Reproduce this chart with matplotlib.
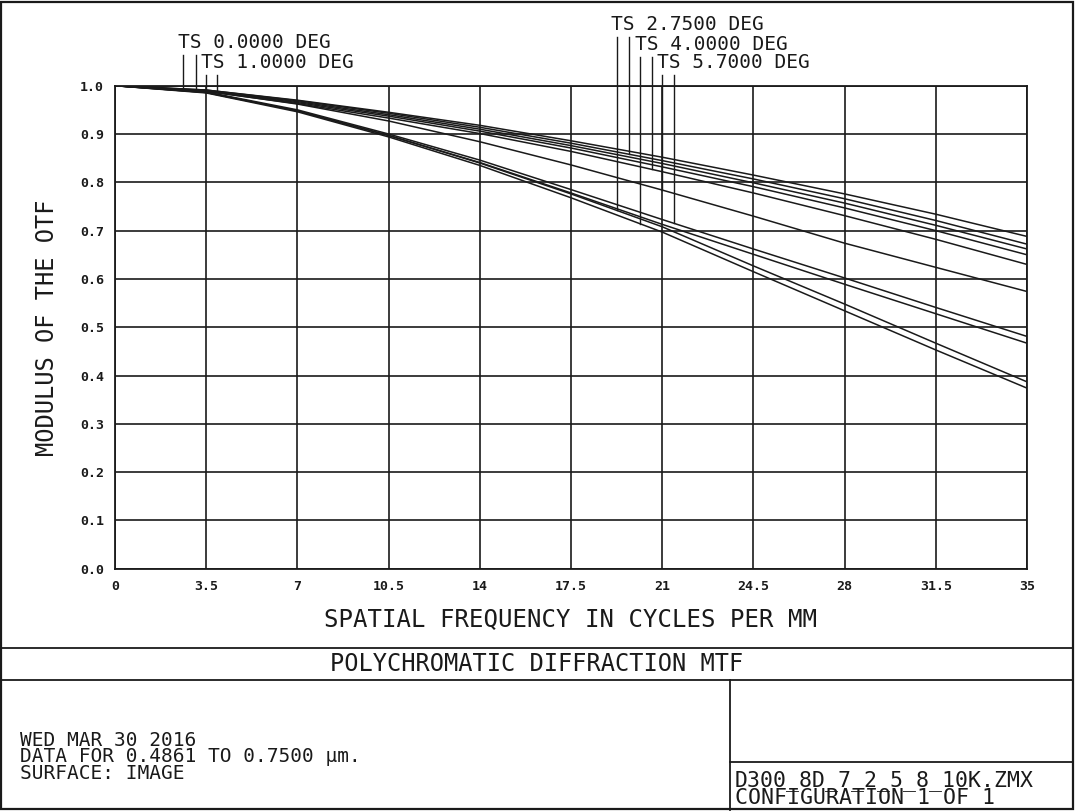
import matplotlib
matplotlib.use('Agg')
import matplotlib.pyplot as plt
import numpy as np

# spatial frequency samples (cycles/mm), read at the grid columns
freq = [0, 3.5, 7, 10.5, 14, 17.5, 21, 24.5, 28, 31.5, 35]

# MTF curves (upper cluster, single line, lower group)
u1 = [1.0, 0.991, 0.970, 0.945, 0.918, 0.886, 0.852, 0.815, 0.776, 0.734, 0.688]
u2 = [1.0, 0.991, 0.969, 0.943, 0.914, 0.881, 0.845, 0.807, 0.766, 0.721, 0.672]
u3 = [1.0, 0.990, 0.967, 0.940, 0.910, 0.876, 0.839, 0.799, 0.757, 0.711, 0.662]
u4 = [1.0, 0.989, 0.965, 0.937, 0.906, 0.871, 0.832, 0.791, 0.747, 0.700, 0.650]
u5 = [1.0, 0.988, 0.963, 0.933, 0.901, 0.864, 0.822, 0.778, 0.731, 0.682, 0.630]
s1 = [1.0, 0.989, 0.962, 0.927, 0.884, 0.836, 0.784, 0.730, 0.674, 0.624, 0.574]
l1 = [1.0, 0.987, 0.950, 0.900, 0.846, 0.785, 0.723, 0.662, 0.602, 0.541, 0.481]
l2 = [1.0, 0.986, 0.948, 0.897, 0.841, 0.778, 0.713, 0.651, 0.589, 0.528, 0.467]
l3 = [1.0, 0.986, 0.948, 0.897, 0.840, 0.776, 0.708, 0.627, 0.548, 0.467, 0.387]
l4 = [1.0, 0.985, 0.946, 0.894, 0.835, 0.768, 0.697, 0.615, 0.534, 0.453, 0.374]
curves = [u1, u2, u3, u4, u5, s1, l1, l2, l3, l4]

# field labels and where their T / S leader lines meet the curves
field_labels = ['TS 0.0000 DEG', 'TS 1.0000 DEG', 'TS 2.7500 DEG',
                'TS 4.0000 DEG', 'TS 5.7000 DEG']
leader_x = [(2.6, 3.1), (3.49, 3.93), (19.25, 19.72), (20.16, 20.59), (21.0, 21.45)]
leader_curve = [(0, 0), (1, 2), (8, 1), (9, 4), (5, 6)]
leader_top = [1.064, 1.022, 1.101, 1.060, 1.022]

xticks = [0, 3.5, 7, 10.5, 14, 17.5, 21, 24.5, 28, 31.5, 35]
xtick_labels = ['0', '3.5', '7', '10.5', '14', '17.5', '21', '24.5', '28', '31.5', '35']
yticks = [0.0, 0.1, 0.2, 0.3, 0.4, 0.5, 0.6, 0.7, 0.8, 0.9, 1.0]

mono = 'DejaVu Sans Mono'
ink = '#1a1a1a'

fig = plt.figure(figsize=(10.75, 8.11), dpi=100)
W, H = 1075.0, 811.0

def fx(px):
    return px / W

def fy(py):
    return 1 - py / H

ax = fig.add_axes([fx(115), fy(568.8), fx(1027) - fx(115), fy(85.7) - fy(568.8)])
ax.set_xlim(0, 35)
ax.set_ylim(0, 1.0)
for x in xticks:
    ax.axvline(x, color=ink, lw=1.2, zorder=1)
for y in yticks:
    ax.axhline(y, color=ink, lw=1.2, zorder=1)
for c in curves:
    ax.plot(freq, c, color=ink, lw=1.1, zorder=2)

ax.set_xticks(xticks)
ax.set_xticklabels(xtick_labels, fontfamily=mono, fontsize=9.5, fontweight='bold')
ax.set_yticks(yticks)
ax.set_yticklabels(['%.1f' % v for v in yticks], fontfamily=mono, fontsize=9.5, fontweight='bold')
ax.tick_params(length=0, pad=8, colors=ink)
for sp in ax.spines.values():
    sp.set_color(ink)
    sp.set_linewidth(1.3)

ax.set_xlabel('SPATIAL FREQUENCY IN CYCLES PER MM', fontfamily=mono, fontsize=17.3,
              color=ink, labelpad=10)
ax.set_ylabel('MODULUS OF THE OTF', fontfamily=mono, fontsize=17, color=ink, labelpad=15)

# leader lines and field labels above the plot
for lab, xs, ci, ly in zip(field_labels, leader_x, leader_curve, leader_top):
    for x, k in zip(xs, ci):
        yb = np.interp(x, freq, curves[k])
        ax.plot([x, x], [yb, ly], color=ink, lw=1.0, clip_on=False, zorder=3)
    ax.text(xs[0] - 0.2, ly + 0.025, lab, fontfamily=mono, fontsize=14, color=ink,
            ha='left', va='center', clip_on=False)

# frame and info boxes
lines = [
    ([1, 1073], [648, 648]),
    ([1, 1073], [680, 680]),
    ([730, 730], [680, 810]),
    ([730, 1073], [762, 762]),
]
for xs, ys in lines:
    fig.add_artist(plt.Line2D([fx(v) for v in xs], [fy(v) for v in ys], color=ink, lw=1.3))
fig.add_artist(plt.Rectangle((fx(1), fy(809)), fx(1072), fy(2) - fy(809), fill=False,
                             edgecolor=ink, lw=1.6))

fig.text(fx(537), fy(664), 'POLYCHROMATIC DIFFRACTION MTF', fontfamily=mono, fontsize=17,
         color=ink, ha='center', va='center')
info_left = ['WED MAR 30 2016', 'DATA FOR 0.4861 TO 0.7500 \u03bcm.', 'SURFACE: IMAGE']
fig.text(fx(20), fy(757), '\n'.join(info_left), fontfamily=mono, fontsize=14, color=ink,
         ha='left', va='center', linespacing=0.82)
info_right = ['D300_8D_7_2_5_8_10K.ZMX', 'CONFIGURATION 1 OF 1']
fig.text(fx(735), fy(789), '\n'.join(info_right), fontfamily=mono, fontsize=15.5, color=ink,
         ha='left', va='center', linespacing=0.85)

fig.savefig('out.png', dpi=100)
